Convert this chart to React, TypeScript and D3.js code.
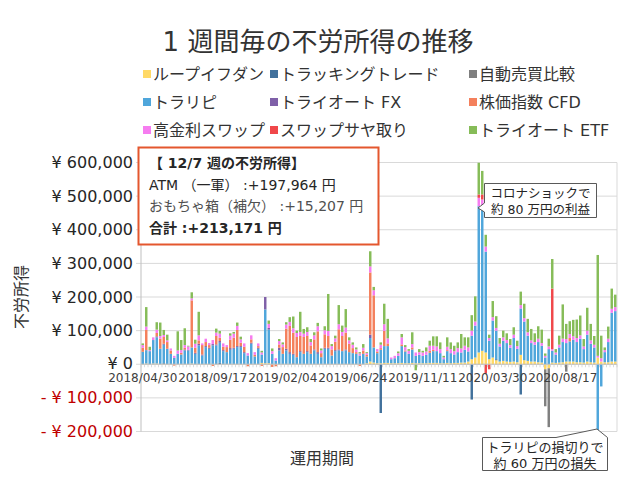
import React from "react";
import * as d3 from "d3";

const W = 640;
const H = 480;

// ---- data (thousand yen per week) ----
const seriesNames = [
  "ループイフダン", "トラッキングトレード", "自動売買比較",
  "トラリピ", "トライオート FX", "株価指数 CFD",
  "高金利スワップ", "スワップサヤ取り", "トライオート ETF",
];
const seriesColors = [
  "#FFD966", "#41719C", "#7F7F7F",
  "#4FA6DB", "#7F60A8", "#F4805C",
  "#F67CF0", "#F0474A", "#86BC58",
];

const loopIfDone = [
  1, 2, 1, 2, 2, 1, 1, 1, 1, 1,
  1, 1, 1, 1, 2, 1, 1, 1, 1, 1,
  1, 1, 1, 1, 1, 1, 1, 1, 1, 1,
  1, 1, 1, 1, 4, 3, 3, 1, 1, 1,
  1, 1, 1, 1, 1, 1, 1, 1, 1, 1,
  1, 1, 1, 1, 1, 1, 1, 1, 1, 1,
  1, 1, 1, 1, 3, 8, 5, 3, 3, 4,
  4, 3, 3, 3, 4, 3, 3, 4, 3, 3,
  3, 3, 4, 4, 4, 3, 3, 4, 3, 4,
  4, 5, 5, 8, 15, 20, 35, 40, 35, 15,
  20, 12, 8, 10, 8, 7, 8, 6, 28, 12,
  10, 8, 8, 6, 5, -15, -12, 5, 4, 5,
  6, 8, 8, 8, 6, 6, 5, 8, 6, 5,
  20, 8, 6, 6, 8, 8,
];
const trackingTrade = [
  0, 0, 0, 0, 0, 0, 2, 0, 0, 0,
  0, 0, 0, 0, 0, 0, 0, 0, 0, 0,
  0, 0, 3, 0, 0, 0, 0, 0, 0, 0,
  0, 0, 0, 0, 0, 0, 0, 0, 0, 0,
  0, 0, 0, 2, 0, 0, 0, 0, 0, 0,
  0, 0, 0, 0, 0, 0, 0, 0, 0, 0,
  0, 0, 0, 0, 0, 0, 0, 0, -145, 0,
  0, 0, 0, 0, 0, 0, 0, 0, 0, 0,
  0, 0, 0, 0, 0, 0, 0, 0, 0, 0,
  0, 0, 0, 0, -105, 0, 0, 0, 0, 0,
  0, 3, 0, 0, 0, 0, 0, 0, -90, 0,
  0, 0, 0, 0, 0, 0, 0, 0, 0, 0,
  0, 0, 0, 0, 0, 0, 0, 0, 0, 0,
  0, 0, 0, 0, 0, 0,
];
const autoCompare = [
  0, 0, 0, 0, 0, 0, 0, 0, 0, 0,
  0, 0, 0, 0, 0, 0, 0, 0, 0, 0,
  0, 0, 0, 0, 0, 0, 0, 0, 0, 0,
  0, 0, 0, 0, 0, 0, 0, 0, 0, 0,
  0, 0, 0, 0, 0, 0, 0, 0, 0, 0,
  0, 0, 0, 0, 0, 0, 0, 0, 0, 0,
  0, 0, 0, 0, 0, 0, 0, 0, 0, 0,
  0, 0, 0, 0, 0, 0, 0, 0, 0, 0,
  0, 0, 0, 0, 0, 0, 0, 0, 0, 0,
  0, 0, 0, 0, 0, 0, 0, 0, 0, 0,
  0, 0, 0, 0, 0, 0, 0, 0, 0, 0,
  0, 0, 0, 0, 0, -110, -175, 0, 0, 0,
  0, -22, 0, 0, 0, 0, 0, 0, 0, 0,
  0, 0, 0, 0, 0, 0,
];
const traripi = [
  36, 40, 38, 70, 78, 45, 55, 45, 30, 18,
  30, 28, 40, 40, 48, 30, 55, 25, 50, 45,
  55, 55, 60, 38, 35, 42, 45, 50, 50, 32,
  25, 60, 22, 45, 25, 160, 100, 30, 10, 40,
  30, 40, 30, 25, 20, 35, 30, 35, 30, 40,
  30, 20, 45, 45, 25, 38, 40, 38, 40, 35,
  32, 30, 25, 30, 20, 70, 45, 30, 40, 50,
  50, 12, 15, 22, 50, 35, 28, 40, 22, 25,
  22, 25, 30, 35, 35, 30, 12, 35, 30, 25,
  32, 30, 38, 30, 70, 95, 435, 430, 300, 55,
  110, 85, 45, 60, 55, 42, 70, 40, 138, 115,
  75, 55, 50, 60, 50, 20, 45, 35, 25, 45,
  60, 55, 60, 65, 60, 70, 40, 80, 55, 45,
  -600, -66, 30, 60, 145, 150,
];
const triautoFx = [
  0, 0, 0, 0, 3, 0, 3, 0, 0, 0,
  0, 0, 3, 2, 0, 3, 5, 3, 3, 3,
  4, 3, 5, 3, 0, 5, 3, 3, 3, 3,
  0, 3, 0, 3, 0, 37, 5, 0, 0, 8,
  0, 5, 5, 3, 0, 3, 0, 3, 0, 3,
  5, 0, 3, 3, 0, 3, 3, 0, 3, 0,
  0, 0, 0, 0, 0, 10, 0, 0, 0, 0,
  0, 0, 0, 0, 0, 0, 0, 0, 0, 0,
  0, 0, 0, 0, 0, 0, 0, 0, 0, 0,
  0, 0, 0, 0, 0, 0, 0, 0, 0, 0,
  0, 0, 0, 0, 0, 0, 0, 0, 0, 0,
  0, 0, 0, 0, 0, 0, 0, 0, 0, 0,
  0, 0, 0, 0, 0, 0, 0, 0, 0, 0,
  0, 0, 0, 0, 0, 0,
];
const indexCfd = [
  12, 60, 0, 0, 10, 30, 20, 20, 10, -4,
  0, 5, 5, 0, 140, 15, 10, 28, 12, 8,
  -5, 25, 10, 10, 15, 25, 30, 48, 10, 16,
  -6, 10, 5, 5, -5, 0, 0, -8, -6, 10,
  20, 60, 78, 63, 60, 45, 50, 45, 25, 30,
  62, 12, 40, 35, 18, 25, 60, 45, 50, 25,
  15, 5, -5, 10, 5, 185, 155, 5, 5, 45,
  8, 0, 0, 0, 5, 3, 0, 6, 0, 0,
  0, 0, 6, 4, 0, 0, 0, 3, 0, 0,
  0, 0, 0, 0, 0, 0, 0, 0, 0, 0,
  0, 0, 0, 0, 0, 0, 0, 0, 0, 0,
  0, 0, 0, 0, 0, 0, 0, 0, 0, 0,
  0, 0, 10, 0, 0, 0, 0, 0, 0, 0,
  0, 0, 0, 0, 0, 0,
];
const highSwap = [
  8, 10, 3, 8, 10, 8, 6, 5, 6, 6,
  10, 8, 8, 10, 6, 12, 15, 5, 10, 6,
  12, 10, 12, 10, 6, 12, 12, 12, 10, 10,
  7, 12, 8, 8, 6, 0, 12, 8, 7, 10,
  8, 12, 12, 13, 12, 12, 10, 12, 10, 12,
  15, 8, 12, 15, 10, 10, 15, 12, 15, 10,
  10, 8, 6, 8, 5, 18, 15, 7, 10, 20,
  15, 5, 7, 8, 21, 10, 9, 10, 10, 8,
  10, 10, 15, 12, 14, 12, 5, 10, 12, 10,
  12, 12, 12, 12, 15, 12, 25, 20, 15, 8,
  10, 8, 8, 10, 9, 8, 10, 8, 10, 10,
  10, 8, 8, 10, 8, 5, 8, 5, 6, 8,
  10, 12, 12, 10, 12, 10, 8, 12, 10, 8,
  5, 10, 6, 10, 12, 12,
];
const swapSaya = [
  0, 0, 0, 0, 0, 0, 0, 0, 0, 0,
  0, 0, 0, 0, 0, 0, 0, 0, 0, 0,
  0, 0, 0, 0, 0, 0, 0, 0, 0, 0,
  0, 0, 0, 0, 0, 0, 0, 0, 0, 0,
  0, 0, 0, 0, 0, 0, 0, 0, 0, 0,
  0, 0, 0, 0, 0, 0, 0, 0, 0, 0,
  0, 0, 0, 0, 0, 0, 0, 0, 0, 0,
  0, 0, 0, 0, 0, 0, 0, 0, 0, 0,
  0, 0, 0, 0, 0, 0, 0, 0, 0, 0,
  0, 0, 0, 0, 0, 0, 10, 15, -28, -15,
  0, 0, 0, 0, 0, 0, 0, 0, 0, 0,
  0, 0, 0, 0, 0, 0, 0, 180, 0, 0,
  0, 0, 0, 0, 0, 0, 0, 0, 0, 0,
  0, 0, 0, 0, 0, 0,
];
const triautoEtf = [
  5, 58, 10, 0, 22, 40, 15, 17, 0, 0,
  57, 30, 50, 2, 18, 12, 70, 0, 0, 0,
  0, 12, 8, 0, 0, 7, 5, 10, 8, 0,
  0, 0, 0, 0, 5, 0, 10, 8, 0, 6,
  6, 7, 14, 35, 7, 60, 14, 14, 9, 9,
  10, 6, 12, 110, 6, 8, 57, 19, 55, 9,
  7, 6, 4, 11, 3, 45, 10, 0, 7, 61,
  58, 0, 0, 5, 10, 6, 5, 35, -18, 9,
  5, 12, 15, 28, 30, 20, 5, 28, 20, 16,
  17, 43, 25, 30, 46, 75, 95, 70, 35, 10,
  48, 35, 17, 20, 20, 18, 22, 16, 40, 43,
  40, 34, 26, 37, 40, 7, 23, 88, 10, 27,
  102, 45, 38, 49, 55, 59, 22, 68, 49, 26,
  300, 67, 8, 36, 60, 37,
];

const seriesValues = [
  loopIfDone, trackingTrade, autoCompare,
  traripi, triautoFx, indexCfd,
  highSwap, swapSaya, triautoEtf,
];

const tickWeekIndex = [0, 20, 40, 60, 80, 100, 120];
const tickLabels = [
  "2018/04/30", "2018/09/17", "2019/02/04", "2019/06/24",
  "2019/11/11", "2020/03/30", "2020/08/17",
];
const yTicks = [-200000, -100000, 0, 100000, 200000, 300000, 400000, 500000, 600000];

const FONT = "'DejaVu Sans', 'Noto Sans CJK JP', sans-serif";

// ---- layout ----
const PL = 141;
const PR = 617;
const PT = 162.5;
const PB = 431.5;

export default function App() {
  const N = traripi.length;
  const keys = seriesNames.map((_, k) => "s" + k);
  const rows = d3.range(N).map((i) => {
    const r: Record<string, number> = { i } as any;
    seriesValues.forEach((arr, k) => {
      r["s" + k] = arr[i] * 1000;
    });
    return r;
  });
  const stacked = d3
    .stack<Record<string, number>>()
    .keys(keys)
    .order(d3.stackOrderNone)
    .offset(d3.stackOffsetDiverging)(rows);

  const x = d3
    .scaleBand<number>()
    .domain(d3.range(N))
    .range([PL, PR])
    .paddingInner(0.3)
    .paddingOuter(0.15);
  const y = d3.scaleLinear().domain([-200000, 600000]).range([PB, PT]);

  const fmt = d3.format(",");
  const yLabel = (v: number) =>
    v === 0 ? "¥ 0" : v > 0 ? "¥ " + fmt(v) : "- ¥ " + fmt(-v);

  const legendCols = [143, 270, 469];
  const legendRows = [74, 102, 130];

  const step = x.step();

  return (
    <svg width={W} height={H} style={{ position: "absolute", left: 0, top: 0, background: "#fff" }} fontFamily={FONT}>
      <defs>
        <clipPath id="plotClip">
          <rect x={PL} y={PT} width={PR - PL} height={PB - PT} />
        </clipPath>
      </defs>
      <rect x={0} y={0} width={W} height={H} fill="#fff" />

      {/* title */}
      <text x={318} y={42} textAnchor="middle" dominantBaseline="central" fontSize={26} fill="#333">
        1 週間毎の不労所得の推移
      </text>

      {/* legend */}
      {seriesNames.map((name, k) => {
        const cx = legendCols[Math.floor(k % 3)];
        const cy = legendRows[Math.floor(k / 3)];
        return (
          <g key={name}>
            <rect x={cx} y={cy - 4} width={8} height={8} fill={seriesColors[k]} />
            <text x={cx + 10} y={cy} dominantBaseline="central" fontSize={16} fill="#333">
              {name}
            </text>
          </g>
        );
      })}

      {/* gridlines */}
      {yTicks.map((v) => (
        <line key={v} x1={PL - 5} x2={PR} y1={y(v)} y2={y(v)} stroke="#d9d9d9" strokeWidth={1} />
      ))}
      <line x1={PR} x2={PR} y1={PT} y2={PB} stroke="#d9d9d9" />
      <line x1={PL} x2={PL} y1={PT} y2={PB} stroke="#bfbfbf" />

      {/* y labels */}
      {yTicks.map((v) => (
        <text
          key={"l" + v}
          x={133}
          y={v === 0 ? y(v) - 1 : y(v)}
          textAnchor="end"
          dominantBaseline="central"
          fontSize={16}
          fill={v < 0 ? "#C00000" : "#262626"}
        >
          {yLabel(v)}
        </text>
      ))}

      {/* bars */}
      <g clipPath="url(#plotClip)">
        {stacked.map((layer, k) =>
          layer.map((d, i) => {
            const a = y(d[0]);
            const b = y(d[1]);
            const h = Math.abs(a - b);
            if (h < 0.01) return null;
            return (
              <rect
                key={k + "-" + i}
                x={x(i)}
                width={x.bandwidth()}
                y={Math.min(a, b)}
                height={h}
                fill={seriesColors[k]}
              />
            );
          })
        )}
      </g>

      {/* category axis at zero */}
      <line x1={PL} x2={PR} y1={y(0)} y2={y(0)} stroke="#bfbfbf" />
      {d3.range(N + 1).map((i) => (
        <line
          key={"t" + i}
          x1={PL + i * step}
          x2={PL + i * step}
          y1={y(0)}
          y2={y(0) + 3}
          stroke="#d0d0d0"
          strokeWidth={0.8}
        />
      ))}
      {tickWeekIndex.map((wi, j) => (
        <text
          key={"x" + wi}
          x={(x(wi) as number) + x.bandwidth() / 2}
          y={378}
          textAnchor="middle"
          dominantBaseline="central"
          fontSize={12}
          fill="#404040"
        >
          {tickLabels[j]}
        </text>
      ))}

      {/* axis titles */}
      <text x={322} y={458} textAnchor="middle" dominantBaseline="central" fontSize={16} fill="#333">
        運用期間
      </text>
      <text
        transform="translate(21,297) rotate(-90)"
        textAnchor="middle"
        dominantBaseline="central"
        fontSize={16}
        fill="#333"
      >
        不労所得
      </text>

      {/* info box */}
      <rect x={138.5} y={147.5} width={240} height={97} fill="#fff" stroke="#E4572E" strokeWidth={2} />
      <text x={149} y={163} dominantBaseline="central" fontSize={14} fontWeight="bold" fill="#262626">
        【 12/7 週の不労所得】
      </text>
      <text x={149} y={185} dominantBaseline="central" fontSize={14} fill="#262626">
        ATM （一軍） :+197,964 円
      </text>
      <text x={149} y={206} dominantBaseline="central" fontSize={14} fill="#505050">
        おもちゃ箱（補欠） :+15,207 円
      </text>
      <text x={149} y={228} dominantBaseline="central" fontSize={14} fontWeight="bold" fill="#262626">
        合計 :+213,171 円
      </text>

      {/* callout: corona */}
      <path
        d="M484.5,183.5 H596.5 V217.5 H484.5 V212 L478,208 L484.5,203 Z"
        fill="#fff"
        stroke="#595959"
        strokeWidth={1}
      />
      <text x={540.5} y={193} textAnchor="middle" dominantBaseline="central" fontSize={12.5} fill="#262626">
        コロナショックで
      </text>
      <text x={540.5} y={209} textAnchor="middle" dominantBaseline="central" fontSize={12.5} fill="#262626">
        約 80 万円の利益
      </text>

      {/* callout: loss */}
      <path
        d="M482.5,437.5 H556 L597,429 L607.5,437.5 V470.5 H482.5 Z"
        fill="#fff"
        stroke="#595959"
        strokeWidth={1}
      />
      <text x={545} y={447} textAnchor="middle" dominantBaseline="central" fontSize={13} fill="#262626">
        トラリピの損切りで
      </text>
      <text x={545} y={463} textAnchor="middle" dominantBaseline="central" fontSize={13} fill="#262626">
        約 60 万円の損失
      </text>
    </svg>
  );
}
